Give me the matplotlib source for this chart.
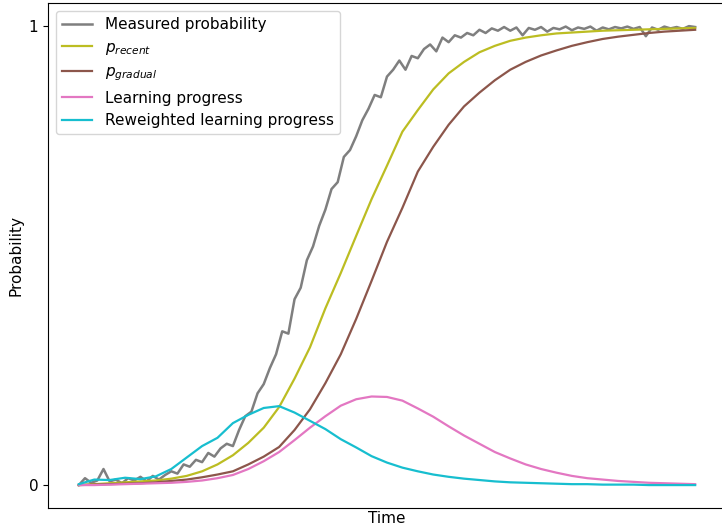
import numpy as np
import matplotlib
matplotlib.use("Agg")
import matplotlib.pyplot as plt

plt.rcParams["font.size"] = 11
plt.rcParams["lines.linewidth"] = 1.6

# time steps (arbitrary units, the axis has no ticks)
t_meas = np.arange(0, 1001, 10)
t_smooth = np.arange(0, 1001, 25)

measured = [
    0.000, 0.015, 0.005, 0.010, 0.035, 0.008, 0.012, 0.004, 0.015, 0.010,
    0.018, 0.008, 0.020, 0.012, 0.022, 0.030, 0.025, 0.045, 0.040, 0.055,
    0.050, 0.070, 0.062, 0.080, 0.090, 0.085, 0.120, 0.150, 0.160, 0.200,
    0.220, 0.255, 0.285, 0.335, 0.330, 0.405, 0.430, 0.490, 0.520, 0.565,
    0.600, 0.645, 0.660, 0.715, 0.730, 0.760, 0.795, 0.820, 0.850, 0.845,
    0.890, 0.905, 0.925, 0.905, 0.935, 0.930, 0.950, 0.960, 0.945, 0.975,
    0.965, 0.980, 0.975, 0.985, 0.980, 0.992, 0.985, 0.995, 0.990, 0.998,
    0.990, 0.997, 0.980, 0.996, 0.992, 0.998, 0.988, 0.996, 0.993, 0.999,
    0.991, 0.997, 0.994, 0.999, 0.990, 0.997, 0.993, 0.998, 0.995, 0.999,
    0.994, 0.998, 0.978, 0.997, 0.992, 0.999, 0.995, 0.998, 0.994, 1.000,
    0.998,
]

p_recent = [
    0.000, 0.002, 0.004, 0.006, 0.008, 0.010, 0.014, 0.020, 0.030, 0.045,
    0.065, 0.092, 0.125, 0.170, 0.232, 0.300, 0.385, 0.462, 0.543, 0.623,
    0.696, 0.770, 0.817, 0.862, 0.897, 0.922, 0.943, 0.957, 0.968, 0.975,
    0.980, 0.984, 0.986, 0.988, 0.990, 0.991, 0.992, 0.993, 0.994, 0.995,
    0.996,
]

p_gradual = [
    0.000, 0.001, 0.002, 0.003, 0.004, 0.006, 0.009, 0.012, 0.017, 0.023,
    0.030, 0.045, 0.062, 0.083, 0.120, 0.165, 0.222, 0.285, 0.362, 0.445,
    0.530, 0.604, 0.683, 0.737, 0.785, 0.825, 0.855, 0.882, 0.905, 0.922,
    0.936, 0.947, 0.957, 0.965, 0.972, 0.977, 0.981, 0.985, 0.988, 0.990,
    0.992,
]

learning_progress = [
    0.000, 0.000, 0.001, 0.002, 0.003, 0.004, 0.005, 0.007, 0.010, 0.015,
    0.022, 0.035, 0.052, 0.072, 0.098, 0.125, 0.150, 0.173, 0.187, 0.193,
    0.192, 0.184, 0.167, 0.149, 0.128, 0.108, 0.090, 0.072, 0.058, 0.045,
    0.035, 0.027, 0.020, 0.015, 0.012, 0.009, 0.007, 0.005, 0.004, 0.003,
    0.002,
]

reweighted = [
    0.002, 0.012, 0.011, 0.016, 0.013, 0.019, 0.035, 0.060, 0.085, 0.103,
    0.135, 0.153, 0.168, 0.172, 0.158, 0.140, 0.122, 0.100, 0.082, 0.063,
    0.049, 0.038, 0.030, 0.023, 0.018, 0.014, 0.011, 0.008, 0.006, 0.005,
    0.004, 0.003, 0.002, 0.002, 0.001, 0.001, 0.001, 0.000, 0.000, 0.000,
    0.000,
]

fig = plt.figure(figsize=(7.22, 5.27), dpi=100)
ax = fig.add_axes([0.0665, 0.036, 0.939, 0.958])

ax.plot(t_meas, measured, color="tab:gray", lw=1.8, label="Measured probability")
ax.plot(t_smooth, p_recent, color="tab:olive", label="$p_{recent}$")
ax.plot(t_smooth, p_gradual, color="tab:brown", label="$p_{gradual}$")
ax.plot(t_smooth, learning_progress, color="tab:pink", label="Learning progress")
ax.plot(t_smooth, reweighted, color="tab:cyan", label="Reweighted learning progress")

ax.set_xticks([])
ax.set_yticks([0, 1])
ax.set_xlabel("Time", labelpad=2)
ax.set_ylabel("Probability")
ax.legend(loc="upper left")

fig.savefig("out.png", dpi=100)
